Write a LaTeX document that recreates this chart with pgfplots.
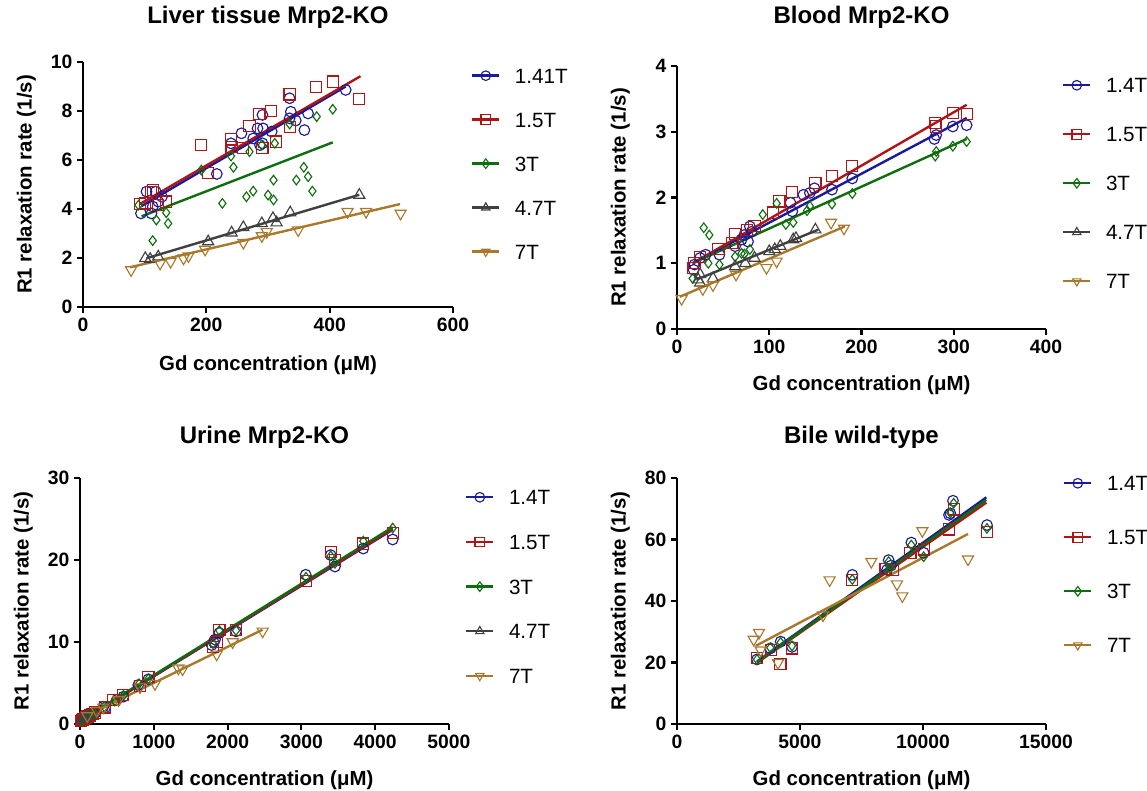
\documentclass[border=0pt]{standalone}
\usepackage{pgfplots}
\pgfplotsset{compat=1.18}
\usepackage{fontspec}
\setmainfont{Liberation Sans}

\definecolor{cb}{HTML}{1A1A9A}
\definecolor{cr}{HTML}{B01414}
\definecolor{cg}{HTML}{0E6E0E}
\definecolor{ck}{HTML}{404040}
\definecolor{cn}{HTML}{A8792C}

\pgfplotsset{
  s1/.style={cb, mark=o, mark size=4pt, mark options={line width=0.85pt}},
  s2/.style={cr, mark=square, mark size=4.2pt, mark options={line width=0.85pt}},
  s3/.style={cg, mark=diamond, mark size=3.6pt, mark options={line width=0.85pt}},
  s4/.style={ck, mark=triangle, mark size=4.8pt, mark options={line width=0.85pt}},
  s5/.style={cn, mark=triangle, mark size=4.8pt, mark options={line width=0.85pt, rotate=180}},
  pts/.style={only marks, forget plot},
  fit/.style={line width=1.8pt, forget plot},
  leg/.style={line width=1.8pt, mark size=3.6pt},
  panel/.style={
    scale only axis,
    axis lines=left,
    axis line style={line width=1.6pt, -},
    tick style={line width=1.6pt, black},
    major tick length=4.5pt,
    tick align=outside,
    clip=false,
    scaled ticks=false,
    ticklabel style={font=\bfseries\fontsize{14.5}{17}\selectfont},
    /pgf/number format/assume math mode=true,
    /pgf/number format/1000 sep={},
    title style={font=\bfseries\fontsize{18}{21}\selectfont, anchor=base},
    xlabel style={font=\bfseries\fontsize{15.3}{18}\selectfont, anchor=base,
      at={([yshift=-47.5pt]axis description cs:0.5,0)}},
    ylabel style={font=\bfseries\fontsize{15.3}{18}\selectfont, anchor=base,
      at={([xshift=-38.5pt]axis description cs:0,0.5)}},
    xlabel={Gd concentration (μM)},
    ylabel={R1 relaxation rate (1/s)},
    legend image code/.code={
      \draw[mark repeat=2, mark phase=2, ##1] plot coordinates {(0pt,0pt) (10pt,0pt) (20pt,0pt)};
      \path (31pt,0pt);},
    legend style={draw=none, fill=none, inner sep=0pt, anchor=north west,
      nodes={inner sep=0pt, text height=11.1pt, text depth=0pt,
        font=\fontsize{15.5}{18}\selectfont}},
    legend cell align=left,
  },
}

\begin{document}
\begin{tikzpicture}
\useasboundingbox (0,0) rectangle (860.25pt,592.5pt);

% Liver tissue
\begin{axis}[panel, at={(62.25pt,362.25pt)}, anchor=south west,
  width=277.5pt, height=183.75pt,
  xmin=0, xmax=600, ymin=0, ymax=10,
  xtick={0,200,400,600}, ytick={0,2,4,6,8,10},
  title={Liver tissue Mrp2-KO},
  title style={at={([yshift=23.1pt]axis description cs:0.5,1)}},
  legend style={at={([xshift=13.5pt,yshift=-4.5pt]axis description cs:1,1)}, row sep=21.9pt}]
\addplot[s1, pts] coordinates {(94,3.82) (103,4.71) (111,3.82) (113,4.10) (118,4.71) (122,4.30) (128,4.50) (217,5.43) (240,6.68) (257,7.09) (276,6.88) (283,7.29) (287,6.61) (291,7.84) (291,6.68) (292,7.29) (306,7.16) (335,8.52) (335,7.70) (337,7.97) (345,7.61) (359,7.22) (365,7.90) (426,8.86)};
\addplot[cb, fit] coordinates {(95,4.12) (426,9.00)};
\addplot[s2, pts] coordinates {(92,4.20) (101,4.23) (110,4.70) (114,4.78) (122,4.16) (135,4.30) (191,6.61) (203,5.46) (240,6.84) (241,6.52) (260,6.48) (270,7.39) (286,7.88) (291,6.48) (305,8.00) (313,6.75) (335,8.68) (336,7.36) (378,8.99) (405,9.20) (448,8.48)};
\addplot[cr, fit] coordinates {(92,4.20) (450,9.42)};
\addplot[s3, pts] coordinates {(90,4.16) (113,2.71) (119,3.55) (135,3.85) (138,3.41) (192,5.59) (226,4.23) (240,6.16) (244,5.70) (265,4.50) (270,6.34) (276,4.73) (290,6.61) (300,4.57) (309,5.18) (309,4.37) (311,6.68) (335,7.47) (346,5.18) (358,5.70) (365,5.32) (372,4.73) (379,7.77) (405,8.07)};
\addplot[cg, fit] coordinates {(95,3.70) (405,6.72)};
\addplot[s4, pts] coordinates {(101,1.99) (109,1.95) (122,2.05) (203,2.67) (241,3.03) (260,3.25) (290,3.41) (308,3.62) (314,3.44) (336,3.85) (448,4.57)};
\addplot[ck, fit] coordinates {(103,1.99) (448,4.58)};
\addplot[s5, pts] coordinates {(78,1.51) (125,1.78) (142,1.85) (163,1.99) (171,2.08) (198,2.35) (260,2.63) (290,2.90) (298,3.07) (349,3.14) (429,3.89) (459,3.89) (515,3.82)};
\addplot[cn, fit] coordinates {(76,1.62) (514,4.20)};
\addlegendimage{s1, leg}\addlegendentry{1.41T}
\addlegendimage{s2, leg}\addlegendentry{1.5T}
\addlegendimage{s3, leg}\addlegendentry{3T}
\addlegendimage{s4, leg}\addlegendentry{4.7T}
\addlegendimage{s5, leg}\addlegendentry{7T}
\end{axis}

% Blood
\begin{axis}[panel, at={(507.75pt,345.75pt)}, anchor=south west,
  width=276.75pt, height=197.25pt,
  xmin=0, xmax=400, ymin=0, ymax=4,
  xtick={0,100,200,300,400}, ytick={0,1,2,3,4},
  title={Blood Mrp2-KO},
  title style={at={([yshift=25.8pt]axis description cs:0.5,1)}},
  xlabel style={at={([yshift=-46.5pt]axis description cs:0.5,0)}},
  legend style={at={([xshift=12pt,yshift=-8.7pt]axis description cs:1,1)}, row sep=25.65pt}]
\addplot[s1, pts] coordinates {(18,0.90) (19,0.98) (25,1.08) (31,1.13) (46,1.13) (63,1.26) (70,1.36) (73,1.43) (77,1.33) (79,1.56) (81,1.48) (123,1.92) (125,1.79) (137,2.04) (144,2.07) (149,2.14) (168,2.12) (190,2.29) (279,2.89) (281,2.95) (299,3.08) (314,3.10)};
\addplot[cb, fit] coordinates {(17,1.00) (314,3.21)};
\addplot[s2, pts] coordinates {(17,0.93) (19,1.00) (25,1.09) (45,1.22) (60,1.31) (63,1.44) (76,1.51) (84,1.57) (104,1.77) (111,1.94) (125,2.08) (150,2.22) (168,2.33) (190,2.48) (280,3.13) (281,3.08) (299,3.29) (314,3.27)};
\addplot[cr, fit] coordinates {(17,1.00) (314,3.41)};
\addplot[s3, pts] coordinates {(17,0.77) (29,1.54) (35,1.43) (34,1.00) (46,0.98) (63,1.10) (70,1.15) (73,1.14) (79,1.21) (93,1.74) (108,1.91) (118,1.59) (126,1.62) (141,1.80) (144,1.87) (168,1.90) (190,2.06) (280,2.63) (281,2.70) (299,2.78) (314,2.85)};
\addplot[cg, fit] coordinates {(17,1.00) (314,2.89)};
\addplot[s4, pts] coordinates {(23,0.75) (25,0.83) (25,0.70) (39,0.77) (63,0.95) (74,1.00) (84,1.08) (100,1.18) (106,1.21) (112,1.26) (126,1.36) (129,1.38) (150,1.51)};
\addplot[ck, fit] coordinates {(21,0.75) (153,1.51)};
\addplot[s5, pts] coordinates {(5,0.46) (28,0.61) (39,0.67) (64,0.83) (97,0.93) (108,1.03) (167,1.62) (181,1.53)};
\addplot[cn, fit] coordinates {(3,0.49) (182,1.56)};
\addlegendimage{s1, leg}\addlegendentry{1.4T}
\addlegendimage{s2, leg}\addlegendentry{1.5T}
\addlegendimage{s3, leg}\addlegendentry{3T}
\addlegendimage{s4, leg}\addlegendentry{4.7T}
\addlegendimage{s5, leg}\addlegendentry{7T}
\end{axis}

% Urine
\begin{axis}[panel, at={(60pt,49.5pt)}, anchor=south west,
  width=276.75pt, height=184.5pt,
  xmin=0, xmax=5000, ymin=0, ymax=30,
  xtick={0,1000,2000,3000,4000,5000}, ytick={0,10,20,30},
  title={Urine Mrp2-KO},
  title style={at={([yshift=19.8pt]axis description cs:0.5,1)}},
  xlabel style={at={([yshift=-46pt]axis description cs:0.5,0)}},
  legend style={at={([xshift=12pt,yshift=-8.7pt]axis description cs:1,1)}, row sep=22.4pt}]
\addplot[s1, pts] coordinates {(15,0.35) (25,0.45) (35,0.55) (50,0.60) (60,0.70) (75,0.80) (90,0.85) (110,0.95) (130,1.00) (150,1.15) (180,1.30) (210,1.40) (316,2.11) (340,2.00) (497,2.93) (587,3.33) (790,4.76) (926,5.45) (1784,9.63) (1810,10.0) (1830,10.3) (1888,11.1) (2114,11.3) (3058,18.2) (3397,20.6) (3455,19.2) (3839,21.4) (4237,22.5)};
\addplot[cb, fit] coordinates {(20,0.40) (4237,23.7)};
\addplot[s2, pts] coordinates {(15,0.40) (25,0.50) (40,0.55) (55,0.65) (70,0.75) (85,0.80) (100,0.90) (120,1.00) (140,1.05) (170,1.25) (200,1.40) (339,2.03) (452,2.93) (587,3.54) (813,4.63) (926,5.77) (1798,9.43) (1850,10.0) (1888,11.5) (2114,11.5) (3062,17.4) (3397,21.0) (3455,20.0) (3839,22.0) (4237,23.3)};
\addplot[cr, fit] coordinates {(20,0.45) (4237,23.8)};
\addplot[s3, pts] coordinates {(20,0.45) (30,0.50) (45,0.60) (60,0.70) (80,0.80) (95,0.90) (115,1.00) (135,1.10) (160,1.20) (190,1.35) (330,2.10) (470,2.80) (590,3.50) (800,4.90) (926,5.50) (1800,9.80) (1888,11.4) (2114,11.4) (3062,17.9) (3397,20.5) (3455,19.6) (3839,22.3) (4237,23.9)};
\addplot[cg, fit] coordinates {(20,0.50) (4237,24.0)};
\addplot[s4, pts] coordinates {(20,0.50) (40,0.60) (60,0.70) (80,0.80) (100,0.90) (130,1.00) (160,1.15)};
\addplot[ck, fit] coordinates {(20,0.50) (160,1.20)};
\addplot[s5, pts] coordinates {(99,0.98) (226,1.63) (316,2.03) (520,2.93) (813,4.50) (1016,4.90) (1333,6.80) (1391,6.70) (1852,8.50) (2069,10.0) (2475,11.3)};
\addplot[cn, fit] coordinates {(20,0.70) (2475,11.5)};
\addlegendimage{s1, leg}\addlegendentry{1.4T}
\addlegendimage{s2, leg}\addlegendentry{1.5T}
\addlegendimage{s3, leg}\addlegendentry{3T}
\addlegendimage{s4, leg}\addlegendentry{4.7T}
\addlegendimage{s5, leg}\addlegendentry{7T}
\end{axis}

% Bile
\begin{axis}[panel, at={(507.75pt,49.5pt)}, anchor=south west,
  width=276.75pt, height=184.5pt,
  xmin=0, xmax=15000, ymin=0, ymax=80,
  xtick={0,5000,10000,15000}, ytick={0,20,40,60,80},
  title={Bile wild-type},
  title style={at={([yshift=19.8pt]axis description cs:0.5,1)}},
  xlabel style={at={([yshift=-46pt]axis description cs:0.5,0)}},
  legend style={at={([xshift=12.75pt,yshift=1.8pt]axis description cs:1,1)}, row sep=29.4pt}]
\addplot[s1, pts] coordinates {(3252,21.0) (3794,24.6) (4214,26.8) (4675,25.1) (7127,48.5) (8536,50.1) (8604,53.3) (8700,51.5) (9525,59.0) (10027,55.7) (11057,68.0) (11111,68.5) (11219,72.6) (12601,64.7)};
\addplot[cb, fit] coordinates {(3252,20.3) (12574,73.7)};
\addplot[s2, pts] coordinates {(3252,21.4) (3808,24.1) (4201,19.5) (4675,24.6) (7127,46.8) (8482,50.3) (8780,50.1) (9485,55.7) (10027,56.8) (11057,63.3) (11247,69.8) (12601,62.5)};
\addplot[cr, fit] coordinates {(3252,19.9) (12574,72.0)};
\addplot[s3, pts] coordinates {(3252,21.0) (3794,24.8) (4214,26.5) (4675,25.4) (7127,47.0) (8604,52.8) (8650,50.5) (9525,58.2) (10027,54.4) (11111,68.7) (11247,71.8) (12601,63.6)};
\addplot[cg, fit] coordinates {(3252,20.1) (12574,72.9)};
\addplot[s5, pts] coordinates {(3116,27.5) (3333,29.7) (3400,24.0) (4106,19.9) (5935,35.4) (6206,46.8) (7900,52.8) (8943,45.5) (9160,41.6) (9973,62.8) (11829,53.6)};
\addplot[cn, fit] coordinates {(3198,25.4) (11829,61.8)};
\addlegendimage{s1, leg}\addlegendentry{1.4T}
\addlegendimage{s2, leg}\addlegendentry{1.5T}
\addlegendimage{s3, leg}\addlegendentry{3T}
\addlegendimage{s5, leg}\addlegendentry{7T}
\end{axis}
\end{tikzpicture}
\end{document}
